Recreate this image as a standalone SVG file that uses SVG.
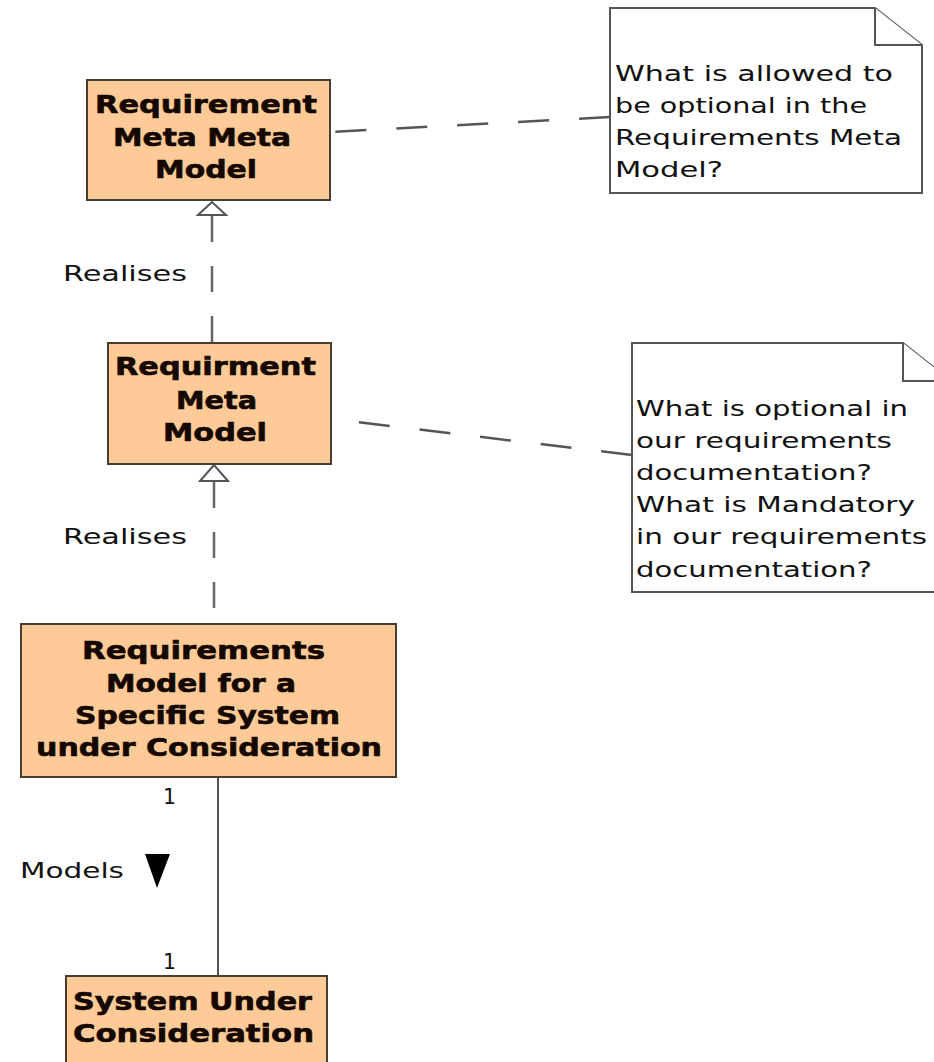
<svg xmlns="http://www.w3.org/2000/svg" width="934" height="1062" viewBox="0 0 934 1062">
<style>
.box{fill:#FECB98;stroke:#4a3e32;stroke-width:2}
.note{fill:#fff;stroke:#555;stroke-width:2}
.bt{font-family:"DejaVu Sans",sans-serif;font-weight:bold;font-size:24px;fill:#140800;stroke:#140800;stroke-width:0.6}
.nt{font-family:"DejaVu Sans",sans-serif;font-size:22px;fill:#111}
.dash{stroke:#555;stroke-width:2.5;fill:none;stroke-dasharray:31 30}
.real{stroke:#666;stroke-width:2.5;fill:none;stroke-dasharray:26 24}
.solid{stroke:#555;stroke-width:2;fill:none}
</style>
<rect width="934" height="1062" fill="#fff"/>
<g id="connectors">
<path class="dash" d="M610,117 L330,132"/>
<path class="dash" d="M632,455 L331,419"/>
<path class="real" d="M212,216 L212,343"/>
<polygon points="212,202 198,215 226,215" fill="#fff" stroke="#555" stroke-width="2"/>
<path class="real" d="M214,482 L214,623"/>
<polygon points="214,465 200,481 228,481" fill="#fff" stroke="#555" stroke-width="2"/>
<path class="solid" d="M218,777 L218,976"/>
<text class="nt" x="63" y="281" textLength="124" lengthAdjust="spacingAndGlyphs">Realises</text>
<text class="nt" x="63" y="544" textLength="124" lengthAdjust="spacingAndGlyphs">Realises</text>
<text class="nt" x="20" y="878" textLength="104" lengthAdjust="spacingAndGlyphs">Models</text>
<polygon points="145,854 170,854 157,888" fill="#000"/>
<text class="nt" x="163" y="804" textLength="13" lengthAdjust="spacingAndGlyphs" font-size="23">1</text>
<text class="nt" x="163" y="969" textLength="13" lengthAdjust="spacingAndGlyphs" font-size="23">1</text>
</g>
<g id="note1">
<path class="note" d="M610,8 L875,8 L922,45 L922,193 L610,193 Z"/>
<path class="note" d="M875,8 L875,45 L922,45" fill="none"/>
<text class="nt" x="615" y="81" textLength="278" lengthAdjust="spacingAndGlyphs">What is allowed to</text>
<text class="nt" x="615" y="113" textLength="252" lengthAdjust="spacingAndGlyphs">be optional in the</text>
<text class="nt" x="615" y="145" textLength="287" lengthAdjust="spacingAndGlyphs">Requirements Meta</text>
<text class="nt" x="615" y="177" textLength="108" lengthAdjust="spacingAndGlyphs">Model?</text>
</g>
<g id="note2">
<path class="note" d="M632,343 L903,343 L951,381 L951,592 L632,592 Z"/>
<path class="note" d="M903,343 L903,381 L951,381" fill="none"/>
<text class="nt" x="636" y="416" textLength="272" lengthAdjust="spacingAndGlyphs">What is optional in</text>
<text class="nt" x="636" y="448" textLength="256" lengthAdjust="spacingAndGlyphs">our requirements</text>
<text class="nt" x="636" y="480" textLength="236" lengthAdjust="spacingAndGlyphs">documentation?</text>
<text class="nt" x="636" y="512" textLength="279" lengthAdjust="spacingAndGlyphs">What is Mandatory</text>
<text class="nt" x="636" y="544" textLength="291" lengthAdjust="spacingAndGlyphs">in our requirements</text>
<text class="nt" x="636" y="577" textLength="236" lengthAdjust="spacingAndGlyphs">documentation?</text>
</g>
<g id="box1">
<rect class="box" x="87" y="80" width="243" height="120"/>
<text class="bt" x="95" y="113" textLength="222" lengthAdjust="spacingAndGlyphs">Requirement</text>
<text class="bt" x="113" y="146" textLength="178" lengthAdjust="spacingAndGlyphs">Meta Meta</text>
<text class="bt" x="155" y="178" textLength="102" lengthAdjust="spacingAndGlyphs">Model</text>
</g>
<g id="box2">
<rect class="box" x="108" y="343" width="223" height="121"/>
<text class="bt" x="115" y="375" textLength="201" lengthAdjust="spacingAndGlyphs">Requirment</text>
<text class="bt" x="176" y="409" textLength="81" lengthAdjust="spacingAndGlyphs">Meta</text>
<text class="bt" x="163" y="441" textLength="104" lengthAdjust="spacingAndGlyphs">Model</text>
</g>
<g id="box3">
<rect class="box" x="21" y="624" width="375" height="153"/>
<text class="bt" x="82" y="659" textLength="243" lengthAdjust="spacingAndGlyphs">Requirements</text>
<text class="bt" x="106" y="692" textLength="190" lengthAdjust="spacingAndGlyphs">Model for a</text>
<text class="bt" x="75" y="724" textLength="265" lengthAdjust="spacingAndGlyphs">Specific System</text>
<text class="bt" x="36" y="756" textLength="346" lengthAdjust="spacingAndGlyphs">under Consideration</text>
</g>
<g id="box4">
<rect class="box" x="66" y="976" width="261" height="100"/>
<text class="bt" x="73" y="1010" textLength="239" lengthAdjust="spacingAndGlyphs">System Under</text>
<text class="bt" x="73" y="1042" textLength="241" lengthAdjust="spacingAndGlyphs">Consideration</text>
</g>
</svg>
